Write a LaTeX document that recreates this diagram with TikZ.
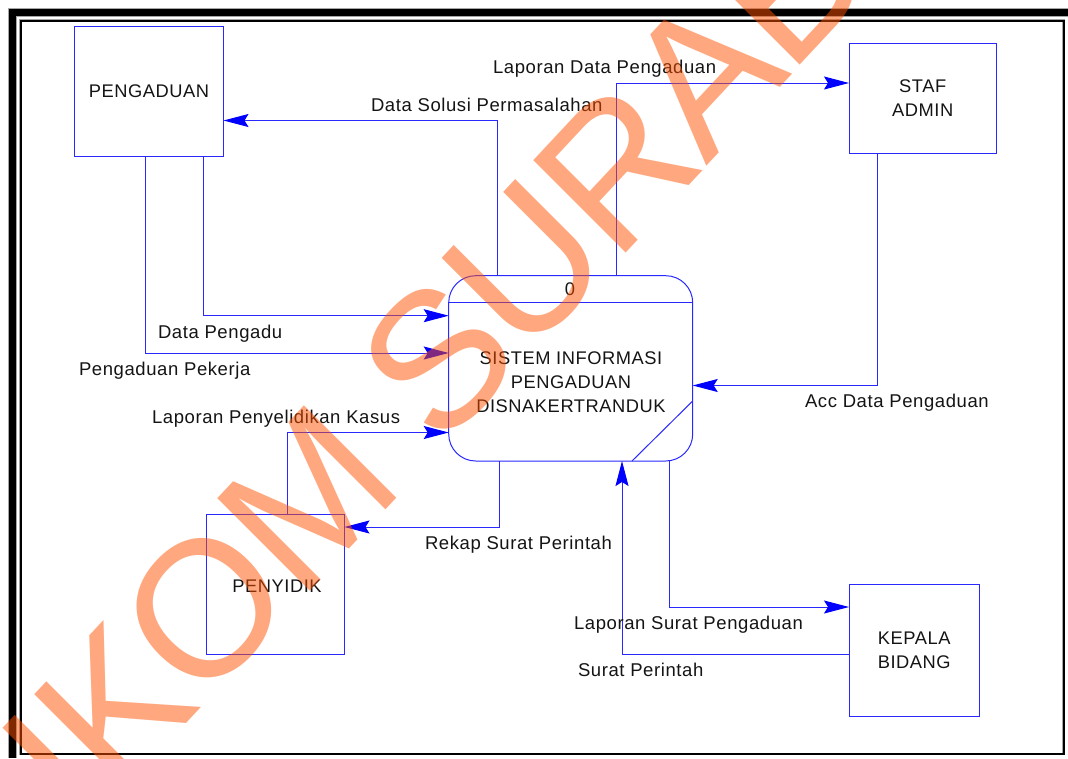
\documentclass[tikz,border=0pt]{standalone}
\usepackage{fontspec}
\setmainfont{Liberation Sans}
\newfontfamily\capfont[LetterSpace=3]{Liberation Sans}
\newfontfamily\lblfont[LetterSpace=3.2]{Liberation Sans}
\newfontfamily\wmfont[LetterSpace=-2]{Liberation Sans}
\usetikzlibrary{arrows.meta}
\definecolor{inkc}{RGB}{20,20,20}
\definecolor{wmc}{RGB}{255,81,1}
\definecolor{linec}{RGB}{40,40,255}
\tikzset{
  every node/.style={inner sep=0pt,outer sep=0pt,text=inkc,font=\fontsize{18.3}{24}\selectfont\capfont,align=center},
  ent/.style={draw=linec,line width=1pt},
  flow/.style={draw=linec,line width=1pt,-{Stealth[length=25pt,width=13pt,inset=4pt,fill=blue,color=blue]}},
  lbl/.style={anchor=base west,font=\fontsize{18.5}{24}\selectfont\lblfont},
  plain/.style={draw=linec,line width=1pt}
}
\begin{document}
\begin{tikzpicture}[x=1pt,y=-1pt]
\useasboundingbox (0,0) rectangle (1068,758);
\clip (0,0) rectangle (1068,758);
% frame
\draw[black!35,line width=9pt] (12.5,758) -- (12.5,12.5) -- (1068,12.5);
\draw[black,line width=7.4pt] (12.5,758) -- (12.5,12.5) -- (1068,12.5);
\draw[black!35,line width=2.8pt] (20.7,754) -- (20.7,20.7) -- (1063.7,20.7) -- (1063.7,754) -- cycle;
\draw[black,line width=1.8pt] (20.7,754) -- (20.7,20.7) -- (1063.7,20.7) -- (1063.7,754) -- cycle;
% entities
\node[ent,minimum width=149pt,minimum height=130pt] (peng) at (149,91.5) {PENGADUAN};
\node[ent,minimum width=147.5pt,minimum height=110pt] (staf) at (922.75,98) {STAF\\ADMIN};
\node[ent,minimum width=130.5pt,minimum height=132pt] (kep) at (914.25,650) {KEPALA\\BIDANG};
\node[ent,minimum width=138pt,minimum height=140.5pt] (peny) at (275.5,584.25) {};
\node (penyt) at (277,586) {PENYIDIK};
% process
\node[ent,rounded corners=27pt,minimum width=244pt,minimum height=185.3pt] (proc) at (570.7,368.35) {};
\coordinate (hl) at (proc.west |- 0,302.3);
\coordinate (hr) at (proc.east |- 0,302.3);
\draw[plain] (hl) -- (hr);
\coordinate (dr) at (proc.east |- 0,401);
\draw[plain] (dr) -- (632,461);
\node (pnum) at (570,289) {0};
\node (ptitle) at (571,382) {SISTEM INFORMASI\\PENGADUAN\\DISNAKERTRANDUK};
% connectors
\draw[flow] (peng.south west) ++(70.5,0) |- (proc.west |- 0,353);
\draw[flow] (peng.south west) ++(128.5,0) |- (proc.west |- 0,315.7);
\draw[flow] (proc.north west) ++(48.8,0) |- (peng.east |- 0,120.5);
\draw[flow] (proc.north west) ++(167.8,0) |- (staf.west |- 0,83);
\draw[flow] (staf.south west) ++(28.5,0) |- (proc.east |- 0,385.5);
\draw[flow] (peny.north west) ++(80.5,0) |- (proc.west |- 0,432.5);
\draw[flow] (proc.south west) ++(50.3,0) |- (peny.east |- 0,527);
\draw[flow] (proc.south west) ++(220.3,0) |- (kep.west |- 0,607);
\draw[flow] (kep.west |- 0,654.5) -| (622,0 |- proc.south);
% labels
\node[lbl] (l1) at (493,73) {Laporan Data Pengaduan};
\node[lbl] (l2) at (371,111) {Data Solusi Permasalahan};
\node[lbl] (l3) at (158,338) {Data Pengadu};
\node[lbl] (l4) at (79,375) {Pengaduan Pekerja};
\node[lbl] (l5) at (152,423) {Laporan Penyelidikan Kasus};
\node[lbl] (l6) at (425,549) {Rekap Surat Perintah};
\node[lbl] (l7) at (574,629) {Laporan Surat Pengaduan};
\node[lbl] (l8) at (578,676) {Surat Perintah};
\node[lbl] (l9) at (805,407) {Acc Data Pengaduan};
% watermark
\node[anchor=base west,cm={0.682,0.731,-0.707,0.707,(0,0)},text=wmc,text opacity=0.5,font=\fontsize{190}{190}\selectfont\wmfont] (wm) at (-77,1006) {STIKOM SURABAYA};
\end{tikzpicture}
\end{document}
